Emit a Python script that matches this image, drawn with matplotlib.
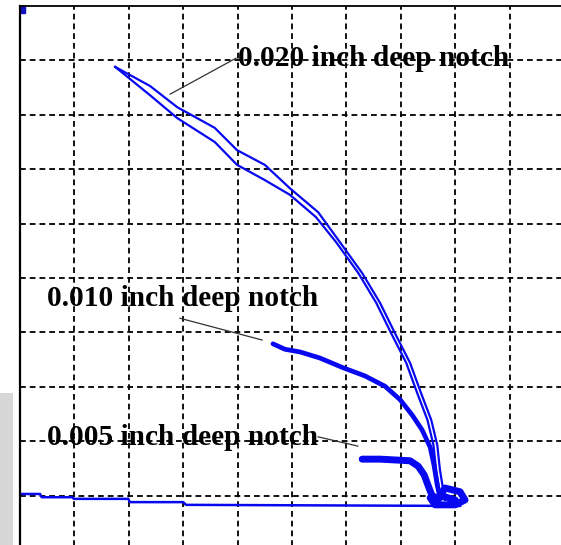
import matplotlib
matplotlib.use('Agg')
import matplotlib.pyplot as plt
from matplotlib.patches import Rectangle

# curve data in grid units (one grid cell = 1)
n20_upper_x = [1.75, 2.39, 2.89, 3.58, 3.99, 4.50, 4.96, 5.48, 5.88, 6.29, 6.62, 6.89, 7.17, 7.37, 7.56, 7.67, 7.72, 7.78, 7.87]
n20_upper_y = [8.88, 8.53, 8.14, 7.76, 7.35, 7.08, 6.65, 6.21, 5.66, 5.09, 4.54, 3.99, 3.44, 2.89, 2.39, 1.93, 1.47, 1.10, 0.92]
n20_lower_x = [1.75, 2.39, 2.89, 3.58, 3.99, 4.50, 4.96, 5.44, 5.81, 6.22, 6.55, 6.82, 7.10, 7.30, 7.49, 7.60, 7.65, 7.71, 7.81]
n20_lower_y = [8.88, 8.36, 7.94, 7.50, 7.08, 6.80, 6.53, 6.12, 5.66, 5.09, 4.54, 3.99, 3.44, 2.89, 2.39, 1.93, 1.47, 1.10, 0.92]

n10_x = [4.65, 4.87, 5.15, 5.51, 5.94, 6.34, 6.71, 6.99, 7.21, 7.39, 7.54, 7.61, 7.67, 7.72]
n10_y = [3.79, 3.69, 3.64, 3.53, 3.35, 3.20, 3.01, 2.76, 2.48, 2.21, 1.89, 1.56, 1.19, 0.97]

n05_x = [6.29, 6.62, 6.99, 7.17, 7.32, 7.43, 7.50, 7.57, 7.68, 7.81, 8.09, 8.18, 8.00, 7.63, 7.54, 7.80, 8.00]
n05_y = [1.67, 1.67, 1.65, 1.64, 1.54, 1.38, 1.19, 1.01, 0.92, 1.14, 1.07, 0.92, 0.83, 0.83, 0.96, 0.98, 0.92]

base_x = [0.00, 0.37, 0.40, 0.96, 0.99, 1.99, 2.02, 3.00, 3.05, 8.09]
base_y = [1.03, 1.03, 0.97, 0.97, 0.94, 0.94, 0.88, 0.88, 0.83, 0.81]

labels = ['0.020 inch deep notch', '0.010 inch deep notch', '0.005 inch deep notch']
label_x = [4.01, 0.50, 0.50]
label_y = [9.04, 4.63, 2.06]
leader_start = [(3.97, 9.04), (2.94, 4.26), (5.48, 2.08)]
leader_end = [(2.76, 8.38), (4.45, 3.86), (6.21, 1.91)]

blue = '#0808f0'

fig = plt.figure(figsize=(5.61, 5.45), dpi=100)
ax = fig.add_axes([20 / 561, -5 / 545, 544 / 561, 544 / 545])
ax.set_xlim(0, 10)
ax.set_ylim(0, 10)

ax.set_xticks(range(1, 10))
ax.set_yticks(range(1, 10))
ax.tick_params(length=0, labelbottom=False, labelleft=False)
ax.grid(True, color='black', linestyle=(0, (3.2, 2.2)), linewidth=1.3)

for side in ['right', 'bottom']:
    ax.spines[side].set_visible(False)
ax.spines['left'].set_linewidth(1.6)
ax.spines['top'].set_linewidth(1.3)

ax.plot(base_x, base_y, color=blue, lw=1.8)
ax.plot(n20_upper_x, n20_upper_y, color=blue, lw=1.6)
ax.plot(n20_lower_x, n20_lower_y, color=blue, lw=1.6)
ax.plot(n10_x, n10_y, color=blue, lw=3.4, solid_capstyle='round')
ax.plot(n05_x, n05_y, color=blue, lw=5, solid_capstyle='round')

for s, e in zip(leader_start, leader_end):
    ax.plot([s[0], e[0]], [s[1], e[1]], color='#333333', lw=0.9)

for t, x, y in zip(labels, label_x, label_y):
    ax.text(x, y, t, fontsize=21.2, fontweight='bold', family='Liberation Serif',
            ha='left', va='center')

# grey strip and small marker at the left edge
fig.patches.append(Rectangle((0, 0), 13 / 561, 152 / 545, transform=fig.transFigure,
                             facecolor='#d6d6d6', edgecolor='none'))
ax.add_patch(Rectangle((0, 9.88), 0.1, 0.12, color='#1010c0', clip_on=False))

fig.savefig('out.png', dpi=100)
